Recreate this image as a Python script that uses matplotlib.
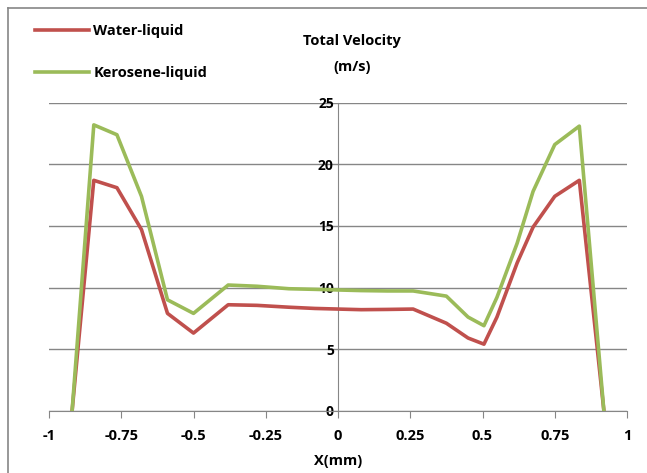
import matplotlib.pyplot as plt
from matplotlib.lines import Line2D

# Data
x_mm = [-0.92, -0.845, -0.765, -0.68, -0.59, -0.5, -0.38, -0.28, -0.17, -0.08, 0.0,
        0.08, 0.17, 0.26, 0.375, 0.45, 0.505, 0.55, 0.62, 0.675, 0.75, 0.835, 0.92]
water = [0, 18.7, 18.1, 14.7, 7.9, 6.3, 8.6, 8.55, 8.4, 8.3, 8.25,
         8.2, 8.22, 8.25, 7.1, 5.9, 5.4, 7.6, 12.0, 14.9, 17.4, 18.7, 0]
kerosene = [0, 23.2, 22.4, 17.4, 9.0, 7.9, 10.2, 10.1, 9.9, 9.85, 9.8,
            9.75, 9.72, 9.72, 9.3, 7.6, 6.9, 9.2, 13.6, 17.8, 21.6, 23.1, 0]
x_ticks = [-1, -0.75, -0.5, -0.25, 0, 0.25, 0.5, 0.75, 1]
x_labels = ['-1', '-0.75', '-0.5', '-0.25', '0', '0.25', '0.5', '0.75', '1']
y_ticks = [0, 5, 10, 15, 20, 25]

plt.rcParams['font.family'] = ['Open Sans', 'DejaVu Sans']
plt.rcParams['font.weight'] = 'bold'
fs = 10.5

W, H = 647, 473
fig = plt.figure(figsize=(W / 100, H / 100), dpi=100)
ax = fig.add_axes([49 / W, 1 - 410.7 / H, 578 / W, 308 / H])

grid_col = '#868686'
ax.plot(x_mm, water, color='#C0504D', lw=2.6, label='Water-liquid', zorder=3)
ax.plot(x_mm, kerosene, color='#9BBB59', lw=2.6, label='Kerosene-liquid', zorder=3)

ax.set_xlim(-1, 1)
ax.set_ylim(0, 25)
ax.set_xticks(x_ticks)
ax.set_xticklabels(x_labels, fontsize=fs, fontweight='bold')
ax.set_yticks(y_ticks)
ax.set_yticklabels([str(v) for v in y_ticks], fontsize=fs, fontweight='bold')

# y axis sits at x = 0
ax.spines['left'].set_position(('data', 0))
ax.spines['left'].set_color(grid_col)
ax.spines['bottom'].set_color(grid_col)
ax.spines['top'].set_visible(False)
ax.spines['right'].set_visible(False)
ax.tick_params(axis='x', direction='out', length=5, color=grid_col, pad=8)
ax.tick_params(axis='y', direction='out', length=0, pad=3)
ax.yaxis.grid(True, color=grid_col, lw=1)
ax.set_axisbelow(True)

ax.set_xlabel('X(mm)', fontsize=fs, fontweight='bold', labelpad=8)

fig.text(352 / W, 1 - 54 / H, 'Total Velocity\n(m/s)', ha='center', va='center',
         fontsize=fs, fontweight='bold', linespacing=2.0)

fig.legend(loc='upper left', bbox_to_anchor=(22 / W, 1 - 11 / H), frameon=False,
           handlelength=3.7, handletextpad=0.28, labelspacing=1.9,
           prop={'weight': 'bold', 'size': fs})

# chart border (top and left visible in the reference)
fig.add_artist(Line2D([8 / W, 1], [1 - 8 / H, 1 - 8 / H], color='#868686', lw=1.2,
                      transform=fig.transFigure))
fig.add_artist(Line2D([8 / W, 8 / W], [0, 1 - 8 / H], color='#868686', lw=1.2,
                      transform=fig.transFigure))

fig.savefig('out.png', dpi=100)
